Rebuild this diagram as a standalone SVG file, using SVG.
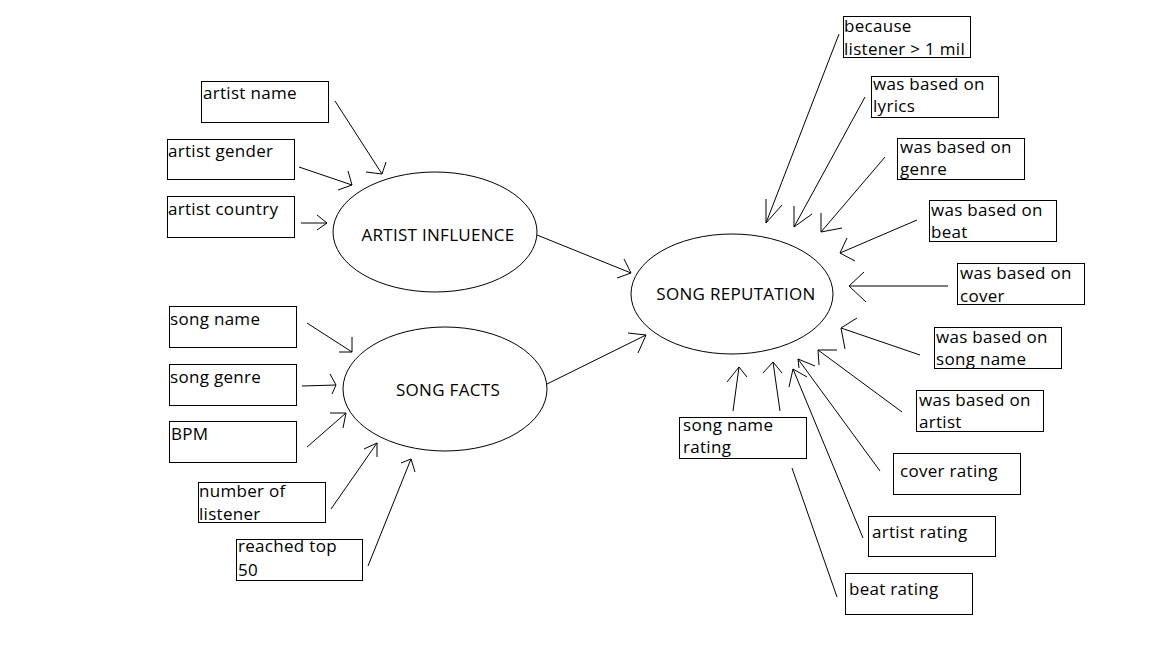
<svg xmlns="http://www.w3.org/2000/svg" width="1152" height="648" viewBox="0 0 1152 648">
<style>
.box{fill:#fff;stroke:#000;stroke-width:1}
.ell{fill:#fff;stroke:#000;stroke-width:1}
.t{font-family:"Open Sans","Noto Sans",sans-serif;font-size:17px;fill:#000;letter-spacing:0.3px}
.c{text-anchor:middle}
#connectors path{fill:none;stroke:#000;stroke-width:1}
</style>
<rect width="1152" height="648" fill="#fff"/>
<g id="connectors">
<path d="M335 101 L382 174 M366 172 L382 174 L386 162"/>
<path d="M299 167 L352 185 M338 190 L352 185 L348 171"/>
<path d="M301 223 L327 223 M317 215 L327 223 L317 230"/>
<path d="M307 323 L352 352 M339 352 L352 352 L352 337"/>
<path d="M302 386 L336 385 M330 374 L336 385 L332 394"/>
<path d="M307 447 L346 413 M330 413 L346 413 L343 428"/>
<path d="M331 509 L377 443 M364 449 L377 443 L377 457"/>
<path d="M368 566 L411 459 M401 463 L411 459 L415 472"/>
<path d="M537 235 L631 273 M624 259 L631 273 L617 278"/>
<path d="M547 384 L646 335 M628 333 L646 335 L638 353"/>
<path d="M839 34 L766 223 M766 199 L766 223 L782 205"/>
<path d="M865 97 L794 227 M794 206 L794 227 L812 214"/>
<path d="M885 157 L821 232 M821 213 L821 232 L842 228"/>
<path d="M917 220 L840 253 M847 238 L840 253 L855 261"/>
<path d="M948 286 L849 286 M864 272 L849 286 L866 302"/>
<path d="M920 355 L841 328 M857 318 L841 328 L845 349"/>
<path d="M902 412 L818 350 M837 350 L818 350 L819 365"/>
<path d="M880 471 L798 359 M815 366 L798 359 L799 368"/>
<path d="M863 538 L793 369 M789 387 L793 369 L807 377"/>
<path d="M837 597 L792 468"/>
<path d="M733 411 L739 367 M727 382 L739 367 L747 377"/>
<path d="M780 411 L773 362 M763 373 L773 362 L782 373"/>
</g>
<g id="artist-influence"><ellipse class="ell" cx="435" cy="232" rx="102" ry="60"/><text class="t c" x="438" y="241">ARTIST INFLUENCE</text></g>
<g id="song-facts"><ellipse class="ell" cx="445" cy="389" rx="102" ry="62"/><text class="t c" x="448" y="396">SONG FACTS</text></g>
<g id="song-reputation"><ellipse class="ell" cx="732" cy="294" rx="101" ry="60"/><text class="t c" x="736" y="300">SONG REPUTATION</text></g>
<g id="artist-name"><rect class="box" x="201.5" y="81.5" width="127" height="41"/><text class="t" x="203" y="99">artist name</text></g>
<g id="artist-gender"><rect class="box" x="167.5" y="139.5" width="127" height="40"/><text class="t" x="168" y="157">artist gender</text></g>
<g id="artist-country"><rect class="box" x="167.5" y="196.5" width="127" height="41"/><text class="t" x="168" y="215">artist country</text></g>
<g id="song-name"><rect class="box" x="169.5" y="306.5" width="127" height="41"/><text class="t" x="170" y="325">song name</text></g>
<g id="song-genre"><rect class="box" x="169.5" y="364.5" width="127" height="41"/><text class="t" x="170" y="383">song genre</text></g>
<g id="bpm"><rect class="box" x="169.5" y="421.5" width="127" height="41"/><text class="t" x="171" y="440">BPM</text></g>
<g id="number-of-listener"><rect class="box" x="198.5" y="482.5" width="127" height="40"/><text class="t" x="199" y="497">number of</text><text class="t" x="199" y="520">listener</text></g>
<g id="reached-top-50"><rect class="box" x="236.5" y="539.5" width="126" height="41"/><text class="t" x="238" y="552">reached top</text><text class="t" x="238" y="576">50</text></g>
<g id="because"><rect class="box" x="843.5" y="16.5" width="127" height="41"/><text class="t" x="844" y="32">because</text><text class="t" x="844" y="55">listener &gt; 1 mil</text></g>
<g id="lyrics"><rect class="box" x="871.5" y="76.5" width="127" height="41"/><text class="t" x="873" y="90">was based on</text><text class="t" x="873" y="112">lyrics</text></g>
<g id="genre"><rect class="box" x="897.5" y="138.5" width="127" height="41"/><text class="t" x="900" y="153">was based on</text><text class="t" x="900" y="175">genre</text></g>
<g id="beat"><rect class="box" x="929.5" y="200.5" width="127" height="41"/><text class="t" x="931" y="216">was based on</text><text class="t" x="931" y="238">beat</text></g>
<g id="cover"><rect class="box" x="957.5" y="263.5" width="127" height="41"/><text class="t" x="960" y="279">was based on</text><text class="t" x="960" y="302">cover</text></g>
<g id="song-name-basis"><rect class="box" x="934.5" y="327.5" width="127" height="41"/><text class="t" x="936" y="343">was based on</text><text class="t" x="936" y="365">song name</text></g>
<g id="artist-basis"><rect class="box" x="916.5" y="390.5" width="127" height="41"/><text class="t" x="919" y="406">was based on</text><text class="t" x="919" y="428">artist</text></g>
<g id="cover-rating"><rect class="box" x="893.5" y="453.5" width="127" height="41"/><text class="t" x="900" y="477">cover rating</text></g>
<g id="artist-rating"><rect class="box" x="868.5" y="516.5" width="127" height="40"/><text class="t" x="872" y="538">artist rating</text></g>
<g id="beat-rating"><rect class="box" x="845.5" y="573.5" width="127" height="41"/><text class="t" x="849" y="595">beat rating</text></g>
<g id="song-name-rating"><rect class="box" x="679.5" y="417.5" width="127" height="41"/><text class="t" x="683" y="431">song name</text><text class="t" x="683" y="453">rating</text></g>
</svg>
